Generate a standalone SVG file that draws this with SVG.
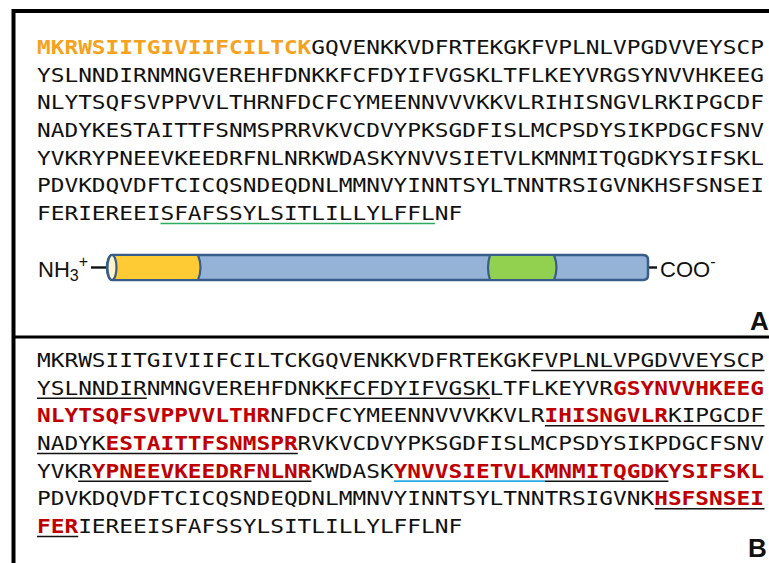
<svg xmlns="http://www.w3.org/2000/svg" width="769" height="563" viewBox="0 0 769 563">
<style>
.seq{font-family:"DejaVu Sans Mono","Liberation Mono",monospace;font-size:19px;fill:#111}
.or{fill:#F5A31E;font-weight:bold}
.rd{fill:#C00000;font-weight:bold}
.ul{stroke:#111;stroke-width:1.5}
.lab{font-family:"Liberation Sans","DejaVu Sans",sans-serif;fill:#111}
</style>
<rect width="769" height="563" fill="#fff"/>
<g id="frame">
<rect x="13.5" y="11" width="800" height="620" fill="none" stroke="#000" stroke-width="4"/>
<line x1="13" y1="337" x2="769" y2="337" stroke="#000" stroke-width="3"/>
</g>
<g id="panelA">
<g transform="translate(37,0) scale(1.2,1)" class="seq">
<text x="0" y="54"><tspan class="or">MKRWSIITGIVIIFCILTCK</tspan>GQVENKKVDFRTEKGKFVPLNLVPGDVVEYSCP</text>
<text x="0" y="81.7">YSLNNDIRNMNGVEREHFDNKKFCFDYIFVGSKLTFLKEYVRGSYNVVHKEEG</text>
<text x="0" y="109.3">NLYTSQFSVPPVVLTHRNFDCFCYMEENNVVVKKVLRIHISNGVLRKIPGCDF</text>
<text x="0" y="137">NADYKESTAITTFSNMSPRRVKVCDVYPKSGDFISLMCPSDYSIKPDGCFSNV</text>
<text x="0" y="164.7">YVKRYPNEEVKEEDRFNLNRKWDASKYNVVSIETVLKMNMITQGDKYSIFSKL</text>
<text x="0" y="192.3">PDVKDQVDFTCICQSNDEQDNLMMNVYINNTSYLTNNTRSIGVNKHSFSNSEI</text>
<text x="0" y="220">FERIEREEISFAFSSYLSITLILLYLFFLNF</text>
</g>
<line x1="160.5" y1="223.5" x2="435" y2="223.5" stroke="#2EAA5E" stroke-width="1.6"/>
</g>
<g id="protein-bar">
<line x1="91" y1="267.5" x2="108" y2="267.5" stroke="#111" stroke-width="2.4"/>
<line x1="648" y1="267.5" x2="657" y2="267.5" stroke="#111" stroke-width="2.4"/>
<path d="M112,255 H643 Q648,255 648,260 V275 Q648,280 643,280 H112 A5,12.5 0 0 1 112,255 Z" fill="#95B3D7" stroke="#385D8A" stroke-width="2.5"/>
<path d="M112,255 H198 Q203,267.5 198,280 H112 Z" fill="#FFCB35" stroke="#385D8A" stroke-width="2.2"/>
<path d="M490,255 H554 Q559,267.5 554,280 H490 Q486,267.5 490,255 Z" fill="#92D050" stroke="#385D8A" stroke-width="2.2"/>
<ellipse cx="112" cy="267.5" rx="4.5" ry="12.5" fill="#FFF3CC" stroke="#385D8A" stroke-width="2.2"/>
<text class="lab" x="38" y="277" font-size="22">NH<tspan font-size="16" dy="4">3</tspan><tspan font-size="16" dy="-14">+</tspan></text>
<text class="lab" x="660" y="277" font-size="22">COO<tspan font-size="16" dy="-10">-</tspan></text>
<text class="lab" x="750" y="330" font-size="26" font-weight="bold">A</text>
</g>
<g id="panelB">
<g transform="translate(37,0) scale(1.2,1)" class="seq">
<text x="0" y="367">MKRWSIITGIVIIFCILTCKGQVENKKVDFRTEKGKFVPLNLVPGDVVEYSCP</text>
<text x="0" y="394.7">YSLNNDIRNMNGVEREHFDNKKFCFDYIFVGSKLTFLKEYVR<tspan class="rd">GSYNVVHKEEG</tspan></text>
<text x="0" y="422.3"><tspan class="rd">NLYTSQFSVPPVVLTHR</tspan>NFDCFCYMEENNVVVKKVLR<tspan class="rd">IHISNGVLR</tspan>KIPGCDF</text>
<text x="0" y="450">NADYK<tspan class="rd">ESTAITTFSNMSPR</tspan>RVKVCDVYPKSGDFISLMCPSDYSIKPDGCFSNV</text>
<text x="0" y="477.7">YVKR<tspan class="rd">YPNEEVKEEDRFNLNR</tspan>KWDASK<tspan class="rd">YNVVSIETVLKMNMITQGDKYSIFSKL</tspan></text>
<text x="0" y="505.3">PDVKDQVDFTCICQSNDEQDNLMMNVYINNTSYLTNNTRSIGVNK<tspan class="rd">HSFSNSEI</tspan></text>
<text x="0" y="533"><tspan class="rd">FER</tspan>IEREEISFAFSSYLSITLILLYLFFLNF</text>
</g>
<g id="underlines">
<line class="ul" x1="531.2" y1="370.5" x2="764.5" y2="370.5"/>
<line class="ul" x1="37" y1="398.2" x2="146.8" y2="398.2"/>
<line class="ul" x1="325.3" y1="398.2" x2="490" y2="398.2"/>
<line class="ul" x1="544.9" y1="425.8" x2="764.5" y2="425.8"/>
<line class="ul" x1="37" y1="453.5" x2="297.8" y2="453.5"/>
<line class="ul" x1="78.2" y1="481.2" x2="311.5" y2="481.2"/>
<line x1="393.9" y1="481.2" x2="544.9" y2="481.2" stroke="#29A9E1" stroke-width="1.8"/>
<line class="ul" x1="544.9" y1="481.2" x2="668.4" y2="481.2"/>
<line class="ul" x1="654.7" y1="508.8" x2="764.5" y2="508.8"/>
<line class="ul" x1="37" y1="536.5" x2="78.2" y2="536.5"/>
</g>
<text class="lab" x="748" y="557" font-size="26" font-weight="bold">B</text>
</g>
</svg>
